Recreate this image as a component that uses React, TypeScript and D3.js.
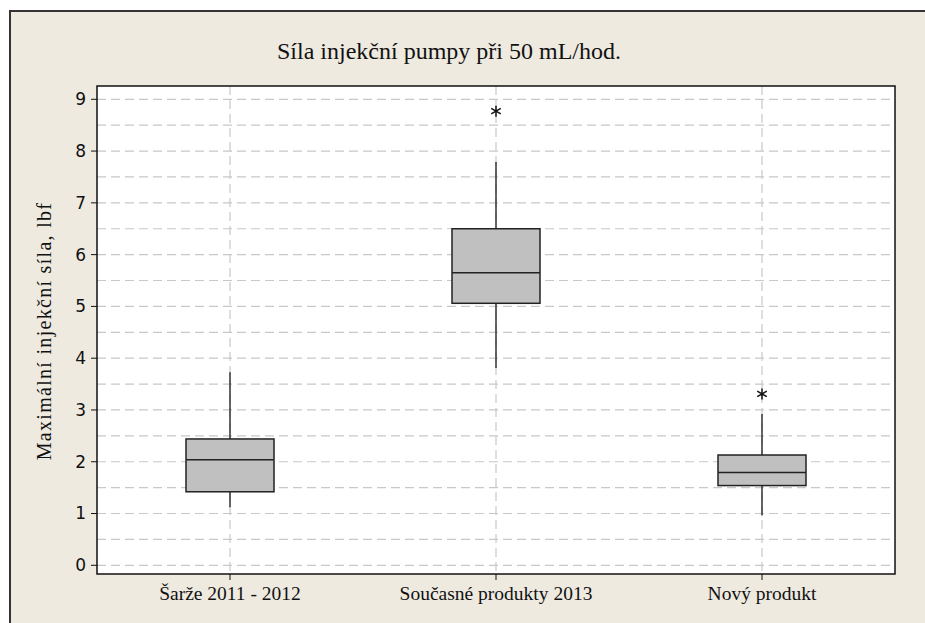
import React, { useEffect } from "react";
import * as d3 from "d3";

const categories = ["Šarže 2011 - 2012", "Současné produkty 2013", "Nový produkt"];
const whiskerLow = [1.12, 3.81, 0.96];
const q1 = [1.42, 5.06, 1.54];
const median = [2.04, 5.65, 1.79];
const q3 = [2.44, 6.5, 2.13];
const whiskerHigh = [3.73, 7.79, 2.92];
const outlierCategory = [1, 2];
const outlierValue = [8.77, 3.31];
const yTicks = [0, 1, 2, 3, 4, 5, 6, 7, 8, 9];
const yGrid = [0, 0.5, 1, 1.5, 2, 2.5, 3, 3.5, 4, 4.5, 5, 5.5, 6, 6.5, 7, 7.5, 8, 8.5, 9];
const title = "Síla injekční pumpy při 50 mL/hod.";
const yLabel = "Maximální injekční síla, lbf";

const W = 925, H = 623;
const plot = { left: 97, right: 895, top: 86, bottom: 574 };
const serif = "'Liberation Serif', 'DejaVu Serif', serif";
const sans = "'DejaVu Sans', Verdana, sans-serif";

function asterisk(r: number) {
  const p = d3.path();
  for (let i = 0; i < 3; i++) {
    const a = (Math.PI / 3) * i + Math.PI / 2;
    p.moveTo(-r * Math.cos(a), -r * Math.sin(a));
    p.lineTo(r * Math.cos(a), r * Math.sin(a));
  }
  return p.toString();
}

export default function App() {
  useEffect(() => {
    document.documentElement.style.overflow = "hidden";
    document.body.style.overflow = "hidden";
    document.body.style.margin = "0";
  }, []);
  const x = d3.scalePoint<string>().domain(categories).range([plot.left, plot.right]).padding(0.5);
  const y = d3.scaleLinear().domain([0, 9]).range([565.3, 99.3]);
  const bw = 88;
  return (
    <svg width={W} height={H} style={{ position: "fixed", left: 0, top: 0, display: "block" }}>
      <rect x={0} y={0} width={W} height={H} fill="#ffffff" />
      <rect x={10} y={11} width={W - 10} height={H - 11} fill="#eeeae0" />
      <line x1={10} x2={10} y1={10} y2={H} stroke="#333" strokeWidth={2} />
      <line x1={9} x2={W} y1={11} y2={11} stroke="#333" strokeWidth={2} />
      <text x={449} y={59} textAnchor="middle" fontFamily={serif} fontSize={24} fill="#111">{title}</text>
      <rect x={plot.left} y={plot.top} width={plot.right - plot.left} height={plot.bottom - plot.top} fill="#fff" />
      {yGrid.map((v) => (
        <line key={"h" + v} x1={plot.left} x2={plot.right} y1={y(v)} y2={y(v)} stroke="#c8c8c8" strokeWidth={1.2} strokeDasharray="9,5" />
      ))}
      {categories.map((c) => (
        <line key={"v" + c} x1={x(c)} x2={x(c)} y1={plot.top} y2={plot.bottom} stroke="#c8c8c8" strokeWidth={1.2} strokeDasharray="9,5" />
      ))}
      {categories.map((c, i) => {
        const cx = x(c)!;
        return (
          <g key={"b" + c}>
            <line x1={cx} x2={cx} y1={y(whiskerHigh[i])} y2={y(q3[i])} stroke="#333" strokeWidth={1.5} />
            <line x1={cx} x2={cx} y1={y(q1[i])} y2={y(whiskerLow[i])} stroke="#333" strokeWidth={1.5} />
            <rect x={cx - bw / 2} y={y(q3[i])} width={bw} height={y(q1[i]) - y(q3[i])} fill="#c0c0c0" stroke="#222" strokeWidth={1.5} />
            <line x1={cx - bw / 2} x2={cx + bw / 2} y1={y(median[i])} y2={y(median[i])} stroke="#222" strokeWidth={1.5} />
          </g>
        );
      })}
      {outlierCategory.map((ci, k) => (
        <path key={"o" + k} d={asterisk(5.5)} transform={`translate(${x(categories[ci])},${y(outlierValue[k])})`} stroke="#111" strokeWidth={1.5} fill="none" />
      ))}
      <rect x={plot.left} y={plot.top} width={plot.right - plot.left} height={plot.bottom - plot.top} fill="none" stroke="#111" strokeWidth={1.5} />
      {yTicks.map((t) => (
        <g key={"t" + t}>
          <line x1={plot.left - 6} x2={plot.left} y1={y(t)} y2={y(t)} stroke="#111" strokeWidth={1} />
          <text x={plot.left - 11} y={y(t)} dy="0.35em" textAnchor="end" fontFamily={sans} fontSize={17} fill="#111">{t}</text>
        </g>
      ))}
      {categories.map((c) => (
        <g key={"x" + c}>
          <line x1={x(c)} x2={x(c)} y1={plot.bottom} y2={plot.bottom + 6} stroke="#111" strokeWidth={1} />
          <text x={x(c)} y={plot.bottom + 26} textAnchor="middle" fontFamily={serif} fontSize={19.5} fill="#111">{c}</text>
        </g>
      ))}
      <text transform={`translate(51,331) rotate(-90)`} textAnchor="middle" fontFamily={serif} fontSize={20} letterSpacing={1.3} fill="#111">{yLabel}</text>
      <rect x={905} y={12} width={W - 905} height={H - 12} fill="#eeeae0" />
    </svg>
  );
}
